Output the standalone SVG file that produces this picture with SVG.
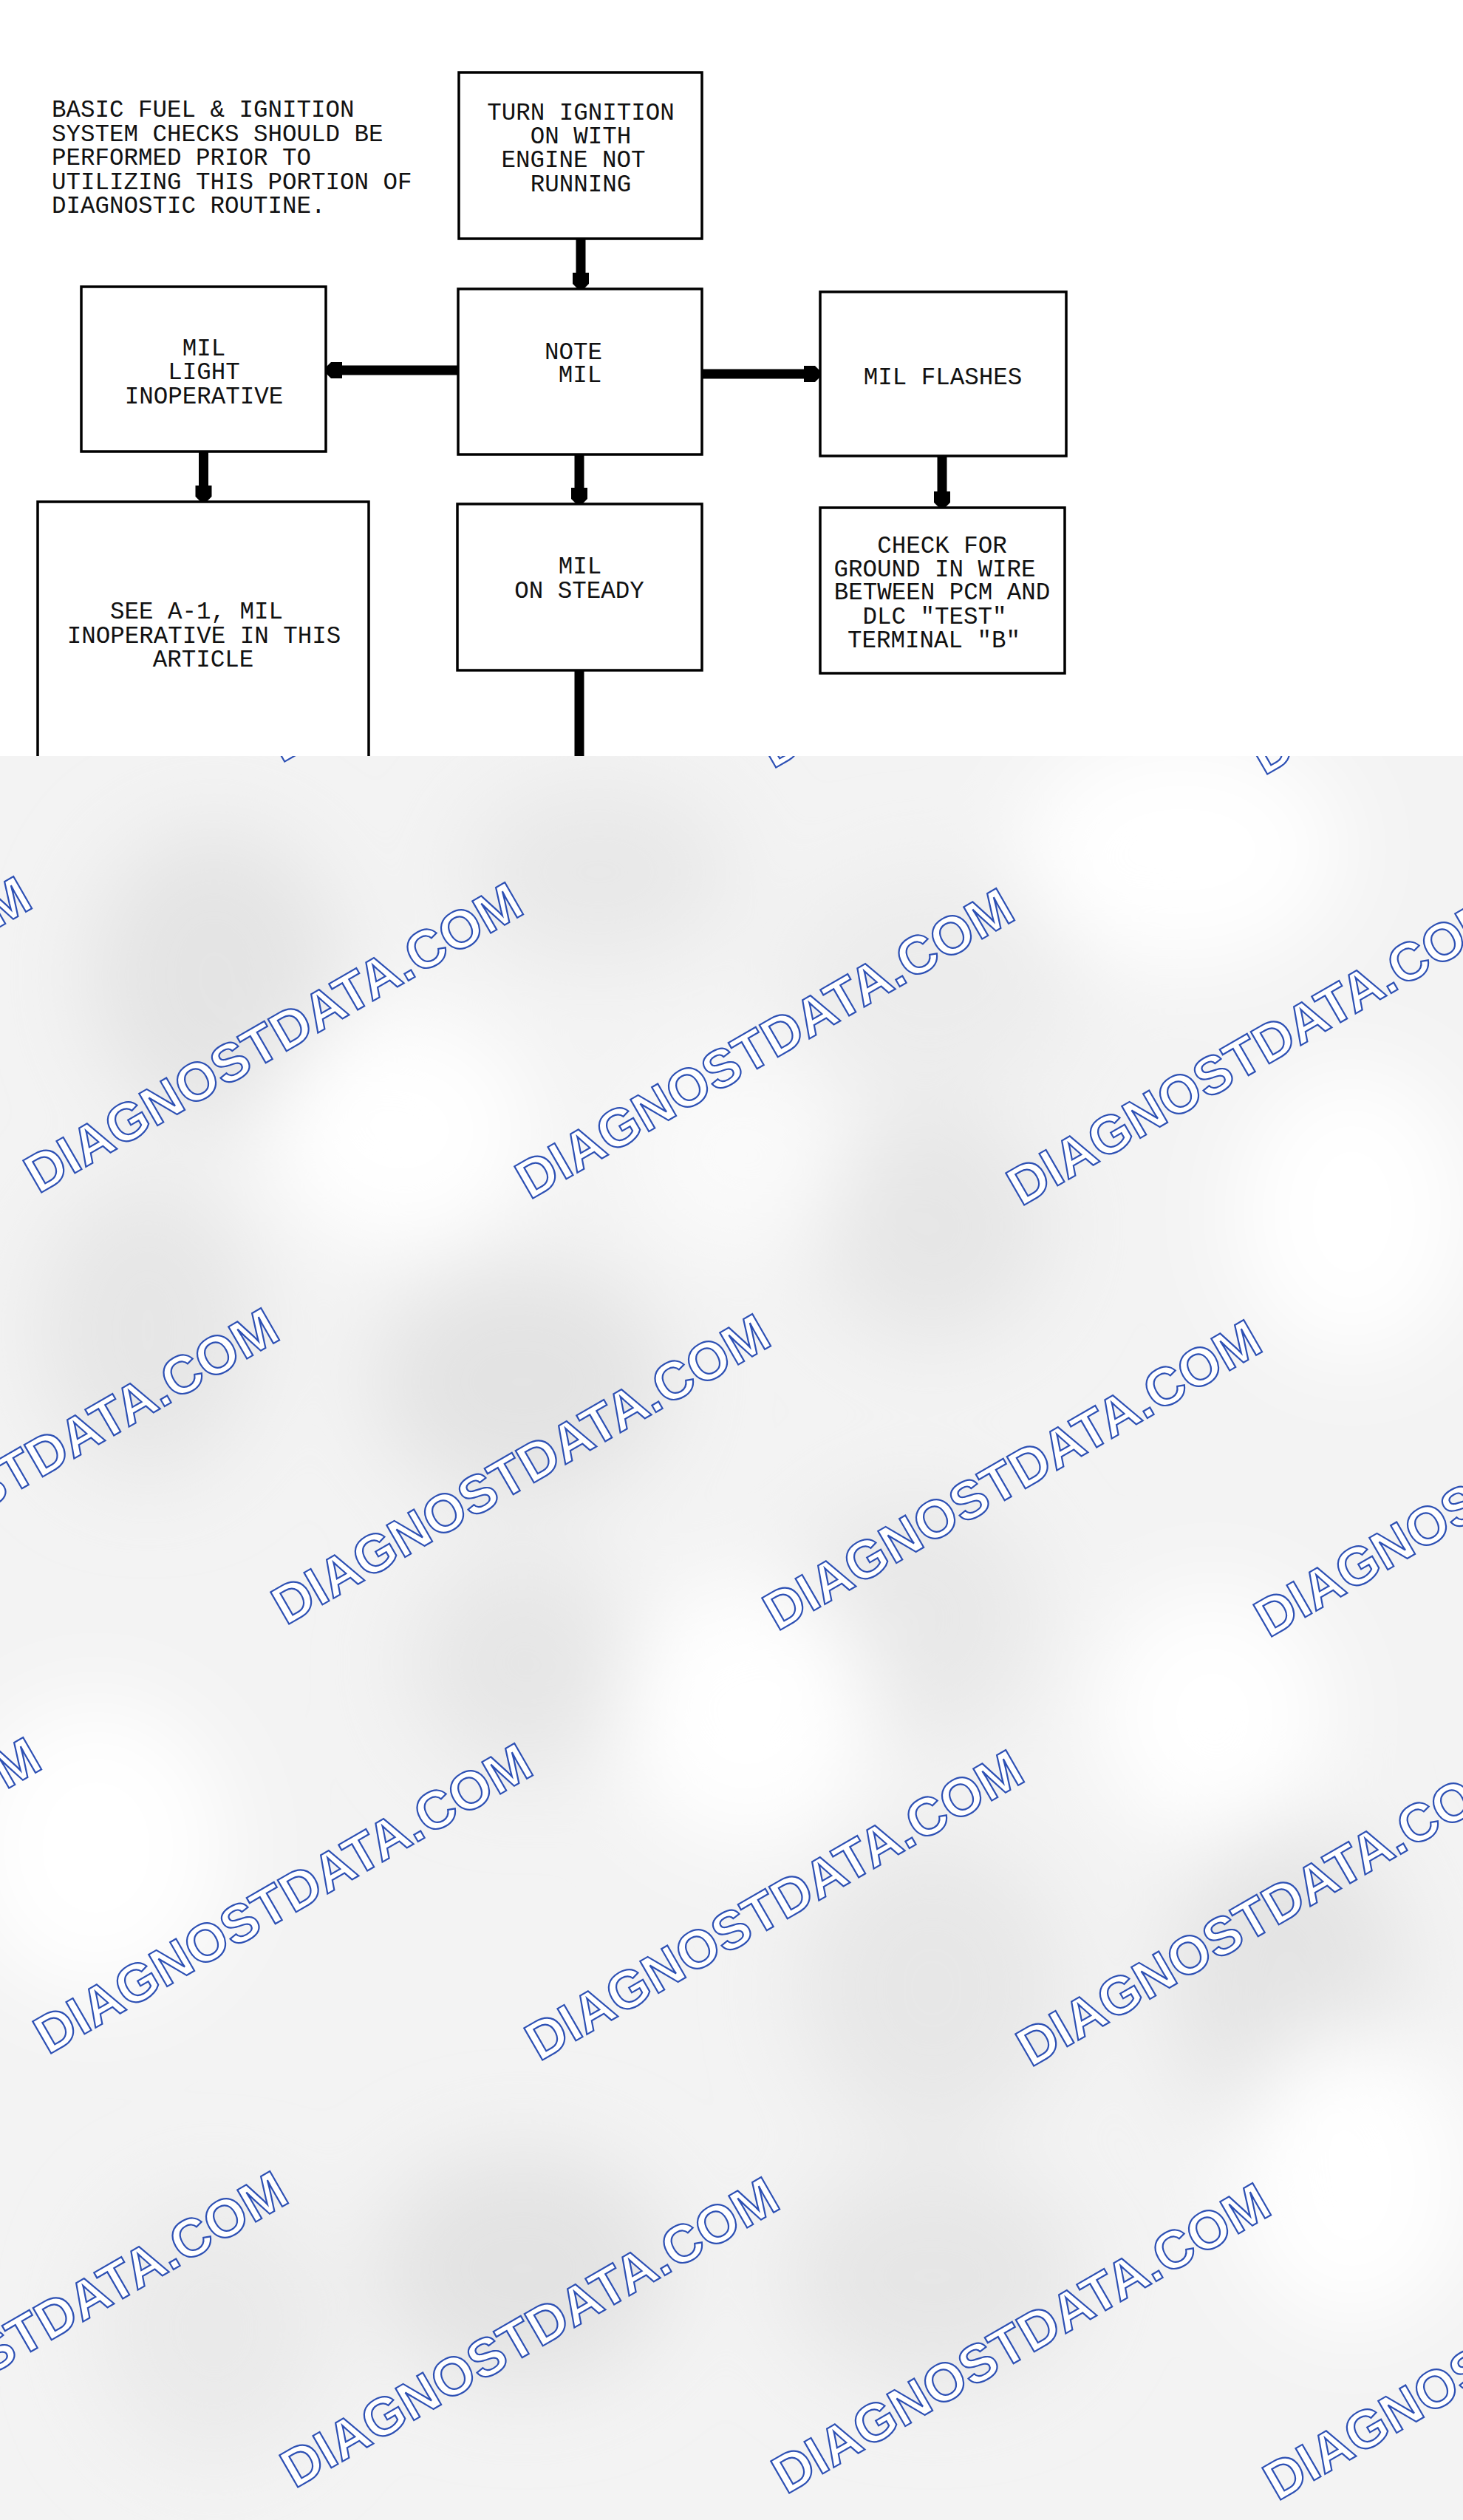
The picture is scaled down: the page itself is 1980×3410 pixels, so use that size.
<svg xmlns="http://www.w3.org/2000/svg" width="1980" height="3410" viewBox="0 0 1980 3410">
<style>
.box{fill:#fff;stroke:#000;stroke-width:3.5}
.side{fill:none;stroke:#000;stroke-width:3.5}
.t{font-family:"Liberation Mono","Courier New",monospace;font-size:32.5px;fill:#111}
.c{text-anchor:middle}
.conn{fill:none;stroke:#000;stroke-width:13}
.wm{font-family:"Liberation Sans",Arial,sans-serif;font-weight:bold;font-size:72.5px;fill:#fff;stroke:#2d50b4;stroke-width:2.2}
</style>
<defs>
<marker id="ah" viewBox="-22 -12 24 24" refX="-8" refY="0" markerWidth="24" markerHeight="24" markerUnits="userSpaceOnUse" orient="auto">
<path d="M-22,-11 L-7,-11 L0,-4 L0,4 L-7,11 L-22,11 Z" fill="#000"/>
</marker>
<filter id="blur" x="-20%" y="-20%" width="140%" height="140%"><feGaussianBlur stdDeviation="60"/></filter>
<clipPath id="lower"><rect x="0" y="1023" width="1980" height="2387"/></clipPath>
</defs>
<rect x="0" y="0" width="1980" height="3410" fill="#fff"/>
<g id="background" clip-path="url(#lower)">
<rect x="0" y="1023" width="1980" height="2387" fill="#f3f3f3"/>
<g filter="url(#blur)">
<ellipse cx="290" cy="1320" rx="170" ry="200" fill="#e4e4e4"/>
<ellipse cx="810" cy="1180" rx="180" ry="120" fill="#e8e8e8"/>
<ellipse cx="1262" cy="1330" rx="200" ry="150" fill="#ececec"/>
<ellipse cx="1262" cy="1660" rx="160" ry="160" fill="#e6e6e6"/>
<ellipse cx="200" cy="1800" rx="150" ry="200" fill="#e6e6e6"/>
<ellipse cx="707" cy="1870" rx="200" ry="160" fill="#e3e3e3"/>
<ellipse cx="707" cy="2250" rx="150" ry="150" fill="#e6e6e6"/>
<ellipse cx="1237" cy="2190" rx="170" ry="170" fill="#e8e8e8"/>
<ellipse cx="1262" cy="2690" rx="180" ry="200" fill="#e7e7e7"/>
<ellipse cx="1742" cy="2690" rx="160" ry="220" fill="#e4e4e4"/>
<ellipse cx="707" cy="3070" rx="200" ry="160" fill="#e3e3e3"/>
<ellipse cx="1262" cy="3080" rx="200" ry="150" fill="#e6e6e6"/>
<ellipse cx="290" cy="3150" rx="160" ry="180" fill="#eaeaea"/>
<ellipse cx="543" cy="1530" rx="180" ry="160" fill="#fff"/>
<ellipse cx="1600" cy="1150" rx="220" ry="160" fill="#fff"/>
<ellipse cx="1830" cy="1640" rx="160" ry="200" fill="#fff"/>
<ellipse cx="130" cy="2500" rx="180" ry="200" fill="#fff"/>
<ellipse cx="1010" cy="2320" rx="170" ry="180" fill="#fff"/>
<ellipse cx="1641" cy="2320" rx="160" ry="170" fill="#fff"/>
<ellipse cx="1830" cy="2950" rx="160" ry="200" fill="#fff"/>
<ellipse cx="1000" cy="1560" rx="150" ry="140" fill="#fafafa"/>
</g>
</g>
<g id="watermarks" clip-path="url(#lower)">
<text class="wm" transform="translate(-284,1024) rotate(-30)">DIAGNOSTDATA.COM</text>
<text class="wm" transform="translate(381,1033) rotate(-30)">DIAGNOSTDATA.COM</text>
<text class="wm" transform="translate(1046,1041) rotate(-30)">DIAGNOSTDATA.COM</text>
<text class="wm" transform="translate(1711,1050) rotate(-30)">DIAGNOSTDATA.COM</text>
<text class="wm" transform="translate(-613,1608) rotate(-30)">DIAGNOSTDATA.COM</text>
<text class="wm" transform="translate(52,1616) rotate(-30)">DIAGNOSTDATA.COM</text>
<text class="wm" transform="translate(717,1624) rotate(-30)">DIAGNOSTDATA.COM</text>
<text class="wm" transform="translate(1382,1633) rotate(-30)">DIAGNOSTDATA.COM</text>
<text class="wm" transform="translate(-278,2192) rotate(-30)">DIAGNOSTDATA.COM</text>
<text class="wm" transform="translate(387,2200) rotate(-30)">DIAGNOSTDATA.COM</text>
<text class="wm" transform="translate(1052,2208) rotate(-30)">DIAGNOSTDATA.COM</text>
<text class="wm" transform="translate(1717,2217) rotate(-30)">DIAGNOSTDATA.COM</text>
<text class="wm" transform="translate(-600,2773) rotate(-30)">DIAGNOSTDATA.COM</text>
<text class="wm" transform="translate(65,2781) rotate(-30)">DIAGNOSTDATA.COM</text>
<text class="wm" transform="translate(730,2790) rotate(-30)">DIAGNOSTDATA.COM</text>
<text class="wm" transform="translate(1395,2798) rotate(-30)">DIAGNOSTDATA.COM</text>
<text class="wm" transform="translate(-266,3360) rotate(-30)">DIAGNOSTDATA.COM</text>
<text class="wm" transform="translate(399,3368) rotate(-30)">DIAGNOSTDATA.COM</text>
<text class="wm" transform="translate(1064,3376) rotate(-30)">DIAGNOSTDATA.COM</text>
<text class="wm" transform="translate(1729,3385) rotate(-30)">DIAGNOSTDATA.COM</text>
</g>
<g id="note-basic">
<text class="t" x="70" y="158">BASIC FUEL &amp; IGNITION</text>
<text class="t" x="70" y="190.5">SYSTEM CHECKS SHOULD BE</text>
<text class="t" x="70" y="223">PERFORMED PRIOR TO</text>
<text class="t" x="70" y="256">UTILIZING THIS PORTION OF</text>
<text class="t" x="70" y="288">DIAGNOSTIC ROUTINE.</text>
</g>
<g id="connectors">
<line class="conn" x1="786" y1="323" x2="786" y2="383" marker-end="url(#ah)"/>
<line class="conn" x1="620" y1="501" x2="449" y2="501" marker-end="url(#ah)"/>
<line class="conn" x1="950" y1="506" x2="1102" y2="506" marker-end="url(#ah)"/>
<line class="conn" x1="784" y1="615" x2="784" y2="674" marker-end="url(#ah)"/>
<line class="conn" x1="275.5" y1="611" x2="275.5" y2="671" marker-end="url(#ah)"/>
<line class="conn" x1="1275" y1="617" x2="1275" y2="679" marker-end="url(#ah)"/>
<line class="conn" x1="784" y1="907" x2="784" y2="1023"/>
</g>
<g id="turn-ignition">
<rect class="box" x="621" y="98" width="329" height="225"/>
<text class="t c" x="786" y="162">TURN IGNITION</text>
<text class="t c" x="786" y="194">ON WITH</text>
<text class="t c" x="776" y="226">ENGINE NOT</text>
<text class="t c" x="786" y="259">RUNNING</text>
</g>
<g id="note-mil">
<rect class="box" x="620" y="391" width="330" height="224"/>
<text class="t c" x="776" y="486">NOTE</text>
<text class="t c" x="785" y="517">MIL</text>
</g>
<g id="mil-light-inoperative">
<rect class="box" x="110" y="388" width="331" height="223"/>
<text class="t c" x="276" y="481">MIL</text>
<text class="t c" x="276" y="513">LIGHT</text>
<text class="t c" x="276" y="546">INOPERATIVE</text>
</g>
<g id="mil-flashes">
<rect class="box" x="1110" y="395" width="333" height="222"/>
<text class="t c" x="1276" y="520">MIL FLASHES</text>
</g>
<g id="see-a1">
<path class="side" d="M51,1023 L51,679 L499,679 L499,1023"/>
<text class="t c" x="266" y="837">SEE A-1, MIL</text>
<text class="t c" x="276" y="870">INOPERATIVE IN THIS</text>
<text class="t c" x="275" y="902">ARTICLE</text>
</g>
<g id="mil-on-steady">
<rect class="box" x="619" y="682" width="331" height="225"/>
<text class="t c" x="785" y="776">MIL</text>
<text class="t c" x="784" y="809">ON STEADY</text>
</g>
<g id="check-ground">
<rect class="box" x="1110" y="687" width="331" height="224"/>
<text class="t c" x="1275" y="748">CHECK FOR</text>
<text class="t c" x="1265" y="780">GROUND IN WIRE</text>
<text class="t c" x="1275" y="811">BETWEEN PCM AND</text>
<text class="t c" x="1265" y="844">DLC "TEST"</text>
<text class="t c" x="1264" y="876">TERMINAL "B"</text>
</g>
</svg>
